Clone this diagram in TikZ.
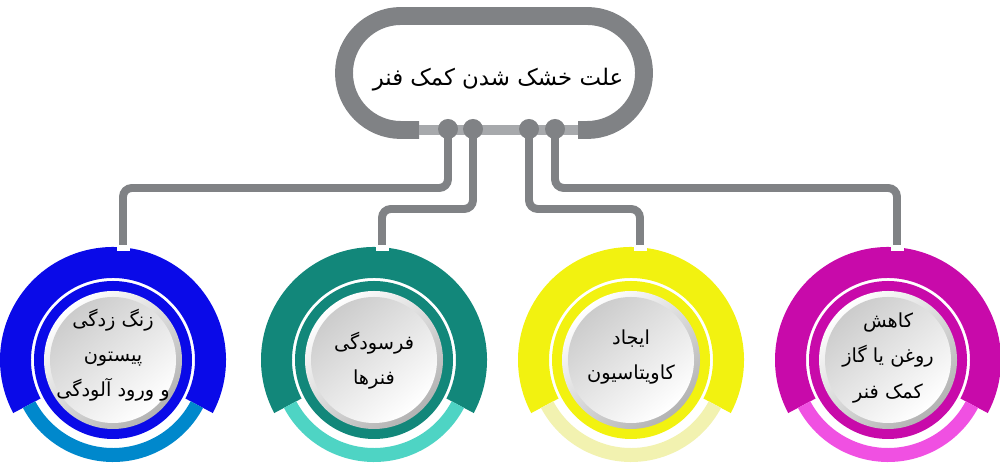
\documentclass[tikz,border=0pt]{standalone}
\usepackage{fontspec}
\newfontfamily\arabicfont[Script=Arabic]{DejaVu Sans}
\TeXXeTstate=1
\definecolor{wire}{RGB}{128,130,133}
\definecolor{bar}{RGB}{167,169,172}
\definecolor{blueD}{RGB}{10,10,232}
\definecolor{blueL}{RGB}{0,136,204}
\definecolor{tealD}{RGB}{18,135,122}
\definecolor{tealL}{RGB}{78,212,196}
\definecolor{yellowD}{RGB}{242,242,16}
\definecolor{yellowL}{RGB}{242,242,176}
\definecolor{pinkD}{RGB}{200,10,170}
\definecolor{pinkL}{RGB}{240,80,226}

\begin{document}
\begin{tikzpicture}[x=0.02cm,y=0.02cm]
            \tikzstyle{pipe}=[draw=wire,line width=4.5pt,rounded corners=5pt]
            \tikzstyle{hub}=[align=center,inner sep=0pt,font=\arabicfont\fontsize{11}{20}\selectfont]
            \tikzstyle{notch}=[fill=white]
            \useasboundingbox (0,0) rectangle (1000,465);

            \foreach \x/\dk/\lt in {113/blueD/blueL,374/tealD/tealL,631/yellowD/yellowL,888/pinkD/pinkL}{
                \fill[\dk] (\x,105) ++(-28:113) arc[start angle=-28,end angle=208,radius=113] -- ++(208:-31) arc[start angle=208,end angle=-28,radius=82] -- cycle;
                \fill[\lt] (\x,105) ++(208:102) arc[start angle=208,end angle=332,radius=102] -- ++(332:-14) arc[start angle=332,end angle=208,radius=88] -- cycle;
                \fill[\dk] (\x,105) circle[radius=79];
                \shade[top color=white,bottom color=gray!60,shading angle=40] (\x,105) circle[radius=69];
                \shade[top color=gray!40,bottom color=white,shading angle=40] (\x,105) circle[radius=63];
            }

            \draw[wire,line width=10.2pt] (419,335) -- (401,335) arc[start angle=270,end angle=90,radius=57] -- (587,449) arc[start angle=90,end angle=-90,radius=57] -- (578,335);
            \draw[bar,line width=5.7pt] (419,335) -- (578,335);
            \node[font=\arabicfont\fontsize{13}{16}\selectfont] (T) at (498,385) {\beginR علت خشک شدن کمک فنر\endR};

            \coordinate (d1) at (448,336);
            \coordinate (d2) at (473,336);
            \coordinate (d3) at (529,336);
            \coordinate (d4) at (555,336);
            \coordinate (e1) at (123,220);
            \coordinate (e2) at (382,220);
            \coordinate (e3) at (640,220);
            \coordinate (e4) at (897,220);

            \fill[notch] ([xshift=-0.13cm,yshift=-0.12cm]e1) rectangle ([xshift=0.13cm]e1);
            \fill[notch] ([xshift=-0.13cm,yshift=-0.12cm]e2) rectangle ([xshift=0.13cm]e2);
            \fill[notch] ([xshift=-0.13cm,yshift=-0.12cm]e3) rectangle ([xshift=0.13cm]e3);
            \fill[notch] ([xshift=-0.13cm,yshift=-0.12cm]e4) rectangle ([xshift=0.13cm]e4);

            \draw[pipe] (d1) -- (d1 |- 0,277) -| (e1);
            \draw[pipe] (d2) -- (d2 |- 0,256) -| (e2);
            \draw[pipe] (d3) -- (d3 |- 0,256) -| (e3);
            \draw[pipe] (d4) -- (d4 |- 0,277) -| (e4);

            \fill[wire] (d1) circle[radius=10];
            \fill[wire] (d2) circle[radius=10];
            \fill[wire] (d3) circle[radius=10];
            \fill[wire] (d4) circle[radius=10];

            \node[hub] (c1) at (113,110) {\beginR زنگ زدگی\endR\\\beginR پیستون\endR\\\beginR و ورود آلودگی\endR};
            \node[hub] (c2) at (374,104) {\beginR فرسودگی\endR\\\beginR فنرها\endR};
            \node[hub] (c3) at (631,108) {\beginR ایجاد\endR\\\beginR کاویتاسیون\endR};
            \node[hub] (c4) at (888,107) {\beginR کاهش\endR\\\beginR روغن یا گاز\endR\\\beginR کمک فنر\endR};
        \end{tikzpicture}
\end{document}
